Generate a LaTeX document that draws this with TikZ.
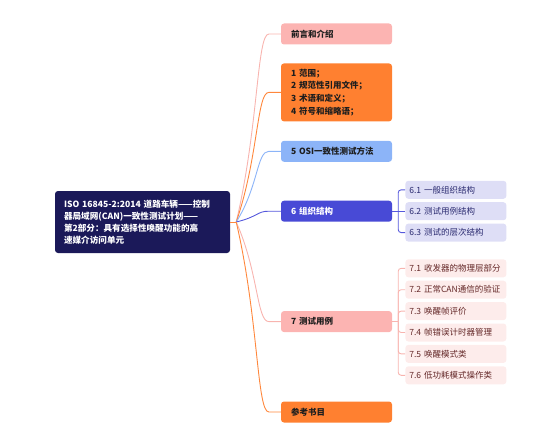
\documentclass[tikz,border=0pt]{standalone}
\usepackage{fontspec}
\setmainfont{Noto Sans CJK SC}
\usetikzlibrary{positioning, calc}
\definecolor{rootNavy}{RGB}{27,25,89}
\definecolor{pinkFill}{RGB}{252,180,178}
\definecolor{orangeFill}{RGB}{255,128,48}
\definecolor{blueFill}{RGB}{140,180,248}
\definecolor{indigoFill}{RGB}{72,74,214}
\definecolor{lavenderFill}{RGB}{222,222,246}
\definecolor{blushFill}{RGB}{253,236,235}
\definecolor{inkDark}{RGB}{30,30,30}
\definecolor{indigoInk}{RGB}{40,40,110}
\definecolor{brownInk}{RGB}{100,40,40}
\definecolor{pinkLine}{RGB}{248,180,175}
\definecolor{orangeLine}{RGB}{255,135,60}
\definecolor{blueLine}{RGB}{140,180,248}
\definecolor{indigoLine}{RGB}{85,88,220}
\tikzset{%
  % Specifications for style of nodes:
          base/.style = {rectangle, rounded corners=3pt, align=left,
                         inner xsep=10pt, inner ysep=0pt, text width=91pt,
                         minimum height=21pt, text=inkDark,
                         font=\bfseries\fontsize{8.5}{12.7}\selectfont},
       rootBox/.style = {base, fill=rootNavy, text=white, text width=157pt,
                         inner xsep=9pt, minimum height=62pt,
                         font=\bfseries\fontsize{8.6}{11.8}\selectfont},
     pinkTopic/.style = {base, fill=pinkFill},
   orangeTopic/.style = {base, fill=orangeFill},
     blueTopic/.style = {base, fill=blueFill},
   indigoTopic/.style = {base, fill=indigoFill, text=white},
      subEntry/.style = {base, text width=93pt, inner xsep=4pt,
                         minimum height=18pt, font=\fontsize{8.5}{10}\selectfont},
      orgEntry/.style = {subEntry, fill=lavenderFill, text=indigoInk},
     testEntry/.style = {subEntry, fill=blushFill, text=brownInk},
  % Specifications for style of connectors:
        branch/.style = {line width=0.9pt,
                         to path={.. controls ($(\tikztostart)!0.5!(\tikztotarget)$)
                                  and ([xshift=-24pt]\tikztotarget)
                                  .. ([xshift=-12pt]\tikztotarget) -- (\tikztotarget)}},
          fork/.style = {line width=0.9pt, rounded corners=3pt},
}
\begin{document}
\begin{tikzpicture}
  \useasboundingbox (0pt,0pt) rectangle (553pt,-428pt);

  \node (isoRoot)      [rootBox] at (142.5pt,-222pt)
                       {\mbox{ISO 16845-2:2014 道路车辆——控制}\\
                        \mbox{器局域网(CAN)一致性测试计划——}\\
                        \mbox{第2部分：具有选择性唤醒功能的高}\\
                        速媒介访问单元};
  \coordinate[right=6pt of isoRoot] (branchPoint);

  \node (prefaceBlock) [pinkTopic] at (336.5pt,-34pt) {前言和介绍};
  \node (scopeBlock)   [orangeTopic, below=18.5pt of prefaceBlock, minimum height=58pt]
                       {1 范围；\\ 2 规范性引用文件；\\ 3 术语和定义；\\ 4 符号和缩略语；};
  \node (osiBlock)     [blueTopic, below=19pt of scopeBlock] {5 OSI一致性测试方法};
  \node (orgBlock)     [indigoTopic, below=38.5pt of osiBlock] {6 组织结构};
  \node (testBlock)    [pinkTopic, below=89pt of orgBlock] {7 测试用例};
  \node (refBlock)     [orangeTopic, below=69pt of testBlock] {参考书目};

  % entries of 6
  \node (orgSub2) [orgEntry, right=13pt of orgBlock] {6.2 测试用例结构};
  \node (orgSub1) [orgEntry, above=3pt of orgSub2] {6.1 一般组织结构};
  \node (orgSub3) [orgEntry, below=3pt of orgSub2] {6.3 测试的层次结构};

  % entries of 7
  \node (testSub3) [testEntry, right=13pt of testBlock, yshift=10.5pt] {7.3 唤醒帧评价};
  \node (testSub2) [testEntry, above=3pt of testSub3] {7.2 正常CAN通信的验证};
  \node (testSub1) [testEntry, above=3pt of testSub2] {7.1 收发器的物理层部分};
  \node (testSub4) [testEntry, below=3pt of testSub3] {7.4 帧错误计时器管理};
  \node (testSub5) [testEntry, below=3pt of testSub4] {7.5 唤醒模式类};
  \node (testSub6) [testEntry, below=3pt of testSub5] {7.6 低功耗模式操作类};

  % Specification of lines between nodes specified above
  \draw[orangeLine, line width=0.9pt] (isoRoot) -- (branchPoint);
  \draw[branch, pinkLine]   (branchPoint) to (prefaceBlock.west);
  \draw[branch, orangeLine] (branchPoint) to (scopeBlock.west);
  \draw[branch, blueLine]   (branchPoint) to (osiBlock.west);
  \draw[branch, indigoLine] (branchPoint) to (orgBlock.west);
  \draw[branch, pinkLine]   (branchPoint) to (testBlock.west);
  \draw[branch, orangeLine] (branchPoint) to (refBlock.west);

  \coordinate[right=6pt of orgBlock] (orgFork);
  \draw[fork, indigoLine] (orgBlock) -- (orgFork);
  \draw[fork, indigoLine] (orgFork) |- (orgSub1);
  \draw[fork, indigoLine] (orgFork) -- (orgSub2);
  \draw[fork, indigoLine] (orgFork) |- (orgSub3);

  \coordinate[right=6pt of testBlock] (testFork);
  \draw[fork, pinkLine] (testBlock) -- (testFork);
  \draw[fork, pinkLine] (testFork) |- (testSub1);
  \draw[fork, pinkLine] (testFork) |- (testSub2);
  \draw[fork, pinkLine] (testFork) |- (testSub3);
  \draw[fork, pinkLine] (testFork) |- (testSub4);
  \draw[fork, pinkLine] (testFork) |- (testSub5);
  \draw[fork, pinkLine] (testFork) |- (testSub6);
\end{tikzpicture}
\end{document}
